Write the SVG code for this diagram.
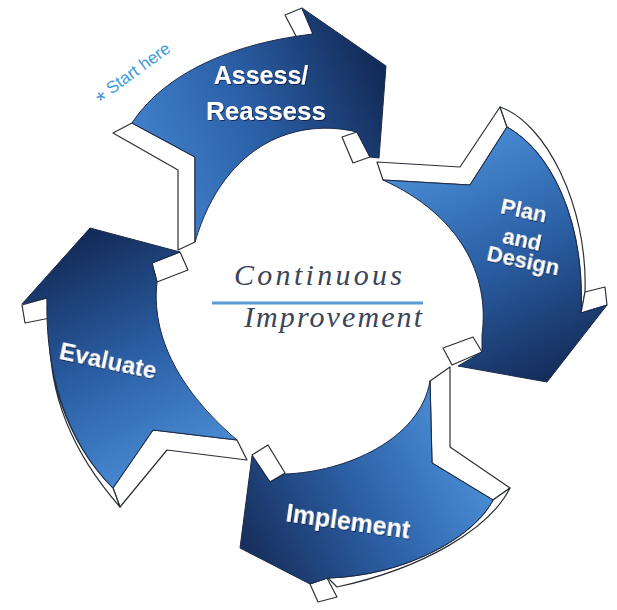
<svg xmlns="http://www.w3.org/2000/svg" width="617" height="610" viewBox="0 0 617 610">
<defs>
<style>
.face{stroke:#1b2a48;stroke-width:1;stroke-linejoin:round}
.side{fill:#fff;stroke:#2b2f38;stroke-width:1.2;stroke-linejoin:round}
.lbl{font-family:"Liberation Sans",Arial,sans-serif;font-weight:bold;fill:#fff;text-anchor:middle;filter:url(#sh)}
.title{font-family:"Liberation Serif","Times New Roman",serif;font-style:italic;fill:#3a4558;text-anchor:middle}
</style>
<filter id="sh" x="-10%" y="-20%" width="120%" height="140%">
<feDropShadow dx="1" dy="1" stdDeviation="0.6" flood-color="#0a1830" flood-opacity="0.7"/>
</filter>
<linearGradient id="gTop" gradientUnits="userSpaceOnUse" x1="140" y1="190" x2="385" y2="85">
<stop offset="0" stop-color="#4485cf"/><stop offset="0.5" stop-color="#2a5fa6"/><stop offset="1" stop-color="#132b58"/>
</linearGradient>
<linearGradient id="gRight" gradientUnits="userSpaceOnUse" x1="430" y1="150" x2="545" y2="385">
<stop offset="0" stop-color="#4a8ed6"/><stop offset="0.5" stop-color="#2a5ea3"/><stop offset="1" stop-color="#132b58"/>
</linearGradient>
<linearGradient id="gBottom" gradientUnits="userSpaceOnUse" x1="470" y1="420" x2="245" y2="540">
<stop offset="0" stop-color="#4e93da"/><stop offset="0.5" stop-color="#2d62a8"/><stop offset="1" stop-color="#17305f"/>
</linearGradient>
<linearGradient id="gLeft" gradientUnits="userSpaceOnUse" x1="200" y1="470" x2="85" y2="235">
<stop offset="0" stop-color="#4c90d8"/><stop offset="0.5" stop-color="#2b5fa5"/><stop offset="1" stop-color="#132b58"/>
</linearGradient>
</defs>
<rect width="617" height="610" fill="#fff"/>

<g id="connectors"></g>

<g id="assess">
<polygon class="side" points="132,123 113,133 178,170 178,250 195,242 195,157"/>
<polygon class="side" points="302,8 285,15 297,38 313,34"/>
<polygon class="side" points="342,137 357,132 370,157 353,163"/>
<path class="face" fill="url(#gTop)" d="M132,123 C160,80 220,45 313,34 L302,8 L386,66 L379,158 L370,157 L357,132 C300,118 225,140 195,242 L195,157 Z"/>
<text class="lbl" x="261" y="84" font-size="25">Assess/</text>
<text class="lbl" x="266" y="120" font-size="26">Reassess</text>
</g>

<g id="plan">
<polygon class="side" points="383,180 377,162 460,167 500,107 507,127 470,185"/>
<path class="side" d="M500,107 C545,122 588,205 585,292 L581,313 C585,215 548,150 507,127 Z"/>
<polygon class="side" points="581,313 585,292 605,287 607,305"/>
<polygon class="side" points="452,365 443,348 473,337 482,352"/>
<path class="face" fill="url(#gRight)" d="M383,180 L470,185 L507,127 C548,150 585,215 581,313 L607,305 L547,382 L458,366 L482,352 L482,335 C490,275 460,215 383,180 Z"/>
<text class="lbl" x="524" y="218" font-size="22" transform="rotate(12 524 210)">Plan</text>
<text class="lbl" x="522" y="247" font-size="22" transform="rotate(12 522 240)">and</text>
<text class="lbl" x="523" y="268" font-size="22" transform="rotate(12 523 262)">Design</text>
</g>

<g id="implement">
<polygon class="side" points="430,381 450,367 450,447 510,488 493,500 432,463"/>
<path class="side" d="M510,488 C490,528 425,568 337,587 L328,578 C410,575 475,535 493,500 Z"/>
<polygon class="side" points="310,584 327,578 337,597 318,602"/>
<polygon class="side" points="252,455 268,445 285,473 270,482"/>
<path class="face" fill="url(#gBottom)" d="M493,500 C475,535 410,575 328,578 L310,584 L240,548 L252,456 L270,482 L285,474 C345,472 420,440 430,381 L432,463 Z"/>
<text class="lbl" x="348" y="530" font-size="25" transform="rotate(8 348 522)">Implement</text>
</g>

<g id="evaluate">
<polygon class="side" points="113,488 153,430 237,440 247,460 167,450 120,507"/>
<path class="side" d="M50,330 C48,390 70,450 120,507 L113,488 C65,440 45,370 50,318 Z"/>
<polygon class="side" points="22,305 47,298 50,318 25,323"/>
<polygon class="side" points="152,263 180,252 188,270 157,282"/>
<path class="face" fill="url(#gLeft)" d="M113,488 L153,430 L237,440 C190,400 150,345 157,282 L152,263 L180,252 L90,228 L22,304 L47,298 C45,370 65,440 113,488 Z"/>
<text class="lbl" x="108" y="369" font-size="24" transform="rotate(12 108 361)">Evaluate</text>
</g>

<g id="start-here">
<text x="0" y="0" transform="translate(100,103) rotate(-36)" font-family="'Liberation Sans',Arial,sans-serif" font-size="17" fill="#3d9ad8"><tspan font-size="24" dy="7">*</tspan><tspan dy="-7"> Start here</tspan></text>
</g>

<g id="center">
<text class="title" x="318" y="285" font-size="30" textLength="168" lengthAdjust="spacing">Continuous</text>
<line x1="212" y1="303" x2="423" y2="303" stroke="#5b9bd5" stroke-width="3"/>
<text class="title" x="333" y="327" font-size="30" textLength="178" lengthAdjust="spacing">Improvement</text>
</g>
</svg>
